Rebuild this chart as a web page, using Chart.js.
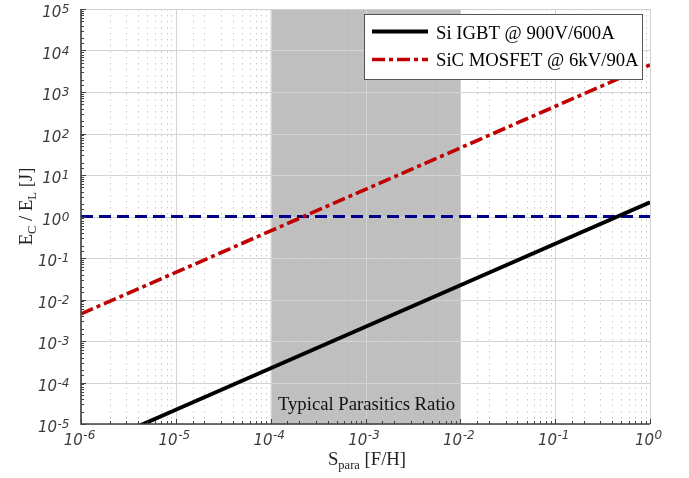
<!DOCTYPE html>
<html><head><meta charset="utf-8">
<style>html,body{margin:0;padding:0;background:#fff;overflow:hidden}</style>
<script src="https://cdn.jsdelivr.net/npm/chart.js@4.4.0/dist/chart.umd.min.js"></script>
</head><body>
<canvas id="c" width="689" height="478" style="display:block;width:689px;height:478px"></canvas>
<script>
// ---- data ----
const sPara = [1e-6, 1e-5, 1e-4, 1e-3, 1e-2, 1e-1, 1e0];
const siIgbt = [2.2e-6, 2.2e-5, 2.2e-4, 2.2e-3, 2.2e-2, 2.2e-1, 2.2];
const sicMosfet = [4.5e-3, 4.5e-2, 4.5e-1, 4.5, 45, 450, 4500];
const unityRatio = [1, 1, 1, 1, 1, 1, 1];
const seriesNames = ['Si IGBT @ 900V/600A', 'SiC MOSFET @ 6kV/90A'];
const shadeRange = [1e-4, 1e-2];
const shadeLabel = 'Typical Parasitics Ratio';
const xTickExps = [-6, -5, -4, -3, -2, -1, 0];
const yTickExps = [-5, -4, -3, -2, -1, 0, 1, 2, 3, 4, 5];
const xTitleParts = [['S', false], ['para', true], [' [F/H]', false]];
const yTitleParts = [['E', false], ['C', true], [' / E', false], ['L', true], [' [J]', false]];

const toPts = (xs, ys) => xs.map((v, i) => ({x: v, y: ys[i]}));
const SERIF = '"Liberation Serif", "Times New Roman", serif';
const SANS = '"DejaVu Sans", sans-serif';
const isMajor = v => { const l = Math.log10(v); return Math.abs(l - Math.round(l)) < 1e-6; };

function drawPow(ctx, e, x, baseY, align, raise) {
  ctx.font = 'italic 15px ' + SANS;
  const w1 = ctx.measureText('10').width;
  const s = String(e);
  ctx.font = 'italic 12px ' + SANS;
  const w2 = ctx.measureText(s).width;
  const total = w1 + 0.5 + w2;
  const start = align === 'right' ? x - total : x - total / 2;
  ctx.fillStyle = '#3c3c3c';
  ctx.textAlign = 'left';
  ctx.textBaseline = 'alphabetic';
  ctx.font = 'italic 15px ' + SANS;
  ctx.fillText('10', start, baseY);
  ctx.font = 'italic 12px ' + SANS;
  ctx.fillText(s, start + w1 + 0.5, baseY - raise);
}

function drawParts(ctx, parts, cx, baseY) {
  const big = '18.7px ' + SERIF, small = '12.5px ' + SERIF;
  let total = 0;
  const widths = parts.map(([t, sub]) => { ctx.font = sub ? small : big; const w = ctx.measureText(t).width; total += w; return w; });
  let x = cx - total / 2;
  ctx.textAlign = 'left';
  ctx.textBaseline = 'alphabetic';
  ctx.fillStyle = '#222';
  parts.forEach(([t, sub], i) => {
    ctx.font = sub ? small : big;
    ctx.fillText(t, x, baseY + (sub ? 4 : 0));
    x += widths[i];
  });
}

const customPlugin = {
  id: 'custom',
  beforeDatasetsDraw(chart) {
    const {ctx, chartArea: a, scales: {x, y}} = chart;
    ctx.save();
    const x0 = x.getPixelForValue(shadeRange[0]), x1 = x.getPixelForValue(shadeRange[1]);
    ctx.fillStyle = '#bfbfbf';
    ctx.fillRect(x0, a.top, x1 - x0, a.bottom - a.top);
    // minor grid (vertical only)
    ctx.lineWidth = 1;
    ctx.strokeStyle = '#c8c8c8';
    ctx.setLineDash([1.5, 4.5]);
    ctx.beginPath();
    x.ticks.forEach(t => { if (!isMajor(t.value)) { const p = Math.round(x.getPixelForValue(t.value)) + 0.5; ctx.moveTo(p, a.top); ctx.lineTo(p, a.bottom); } });
    ctx.stroke();
    // major grid
    ctx.setLineDash([]);
    ctx.strokeStyle = '#d4d4d4';
    ctx.beginPath();
    x.ticks.forEach(t => { if (isMajor(t.value)) { const p = Math.round(x.getPixelForValue(t.value)) + 0.5; ctx.moveTo(p, a.top); ctx.lineTo(p, a.bottom); } });
    y.ticks.forEach(t => { if (isMajor(t.value)) { const p = Math.round(y.getPixelForValue(t.value)) + 0.5; ctx.moveTo(a.left, p); ctx.lineTo(a.right, p); } });
    ctx.stroke();
    // top/right light border
    ctx.strokeStyle = '#d0d0d0';
    ctx.beginPath();
    ctx.moveTo(a.left, a.top + 0.5); ctx.lineTo(a.right + 0.5, a.top + 0.5); ctx.lineTo(a.right + 0.5, a.bottom);
    ctx.stroke();
    // shade label
    ctx.fillStyle = '#111';
    ctx.font = '18.7px ' + SERIF;
    ctx.textAlign = 'center';
    ctx.textBaseline = 'alphabetic';
    ctx.fillText(shadeLabel, (x0 + x1) / 2 + 1, a.bottom - 14.5);
    ctx.restore();
  },
  afterDatasetsDraw(chart) {
    const {ctx, chartArea: a, scales: {x, y}} = chart;
    ctx.save();
    // axes
    ctx.strokeStyle = '#404040';
    ctx.lineWidth = 1.6;
    ctx.beginPath();
    ctx.moveTo(a.left, a.top); ctx.lineTo(a.left, a.bottom); ctx.lineTo(a.right, a.bottom);
    ctx.stroke();
    // inward ticks
    ctx.lineWidth = 1;
    ctx.beginPath();
    x.ticks.forEach(t => { const p = Math.round(x.getPixelForValue(t.value)) + 0.5; const L = isMajor(t.value) ? 5 : 3; ctx.moveTo(p, a.bottom); ctx.lineTo(p, a.bottom - L); });
    y.ticks.forEach(t => { const p = Math.round(y.getPixelForValue(t.value)) + 0.5; const L = isMajor(t.value) ? 5 : 3; ctx.moveTo(a.left, p); ctx.lineTo(a.left + L, p); });
    ctx.stroke();
    // tick labels
    xTickExps.forEach(e => drawPow(ctx, e, x.getPixelForValue(Math.pow(10, e)) - 1.5, a.bottom + 20.5, 'center', 6));
    yTickExps.forEach(e => drawPow(ctx, e, a.left - 11.5, y.getPixelForValue(Math.pow(10, e)) + 8, 'right', 4));
    // axis titles
    drawParts(ctx, xTitleParts, (a.left + a.right) / 2 + 1.5, 465);
    ctx.save();
    ctx.translate(31.5, 206.5);
    ctx.rotate(-Math.PI / 2);
    drawParts(ctx, yTitleParts, 0, 0);
    ctx.restore();
    // legend
    ctx.fillStyle = '#fff';
    ctx.fillRect(364, 14, 279, 66);
    ctx.strokeStyle = '#555';
    ctx.lineWidth = 1;
    ctx.strokeRect(364.5, 14.5, 278, 65);
    const ds = chart.data.datasets;
    [0, 1].forEach(i => {
      const yy = i === 0 ? 31.5 : 59.5;
      ctx.strokeStyle = ds[i].borderColor;
      ctx.lineWidth = ds[i].borderWidth;
      ctx.setLineDash(ds[i].borderDash || []);
      ctx.beginPath(); ctx.moveTo(372, yy); ctx.lineTo(428, yy); ctx.stroke();
      ctx.setLineDash([]);
      ctx.fillStyle = '#000';
      ctx.font = '18.7px ' + SERIF;
      ctx.textAlign = 'left';
      ctx.textBaseline = 'alphabetic';
      ctx.fillText(seriesNames[i], 436, i === 0 ? 39 : 66);
    });
    ctx.restore();
  }
};

new Chart(document.getElementById('c'), {
  type: 'line',
  data: {
    datasets: [
      {label: seriesNames[0], data: toPts(sPara, siIgbt), borderColor: '#000000', borderWidth: 4, pointRadius: 0, tension: 0},
      {label: seriesNames[1], data: toPts(sPara, sicMosfet), borderColor: '#c00000', borderWidth: 3.6, borderDash: [13, 4, 4, 4], pointRadius: 0, tension: 0},
      {label: 'E_C = E_L', data: toPts(sPara, unityRatio), borderColor: '#00008b', borderWidth: 3, borderDash: [12, 6], pointRadius: 0, tension: 0}
    ]
  },
  options: {
    responsive: false,
    devicePixelRatio: 1,
    animation: false,
    layout: {padding: {top: 9, right: 39, left: 0, bottom: 0}},
    plugins: {legend: {display: false}, tooltip: {enabled: false}},
    scales: {
      x: {type: 'logarithmic', min: 1e-6, max: 1, grid: {display: false}, border: {display: false}, ticks: {display: false}, afterFit: s => { s.height = 54; }},
      y: {type: 'logarithmic', min: 1e-5, max: 1e5, grid: {display: false}, border: {display: false}, ticks: {display: false}, afterFit: s => { s.width = 81; }}
    }
  },
  plugins: [customPlugin]
});
</script>
</body></html>
